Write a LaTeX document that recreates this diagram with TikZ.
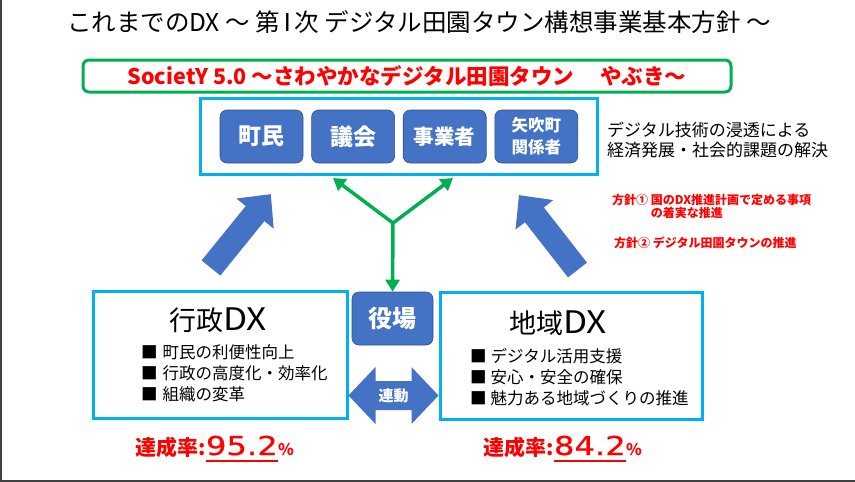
\documentclass[tikz,border=0pt]{standalone}
\usepackage{fontspec}
\newfontfamily\jp{Noto Sans CJK JP}
\newfontfamily\num[FakeBold=0.6]{DejaVu Sans}
\usetikzlibrary{arrows.meta, positioning, fit, calc}
\definecolor{boxblue}{HTML}{4472C4}
\definecolor{boxedge}{HTML}{2F528F}
\definecolor{frameblue}{HTML}{00B0F0}
\definecolor{dxgreen}{HTML}{00B050}
\definecolor{dxred}{HTML}{FF0000}

\begin{document}
\begin{tikzpicture}[
  x=1pt, y=-1pt,
  every node/.style = {font=\jp, inner sep=0pt},
  actor/.style = {
    rounded corners=7pt,
    fill=boxblue,
    draw=boxedge,
    line width=0.6pt,
    text=white,
    align=center,
    minimum width=83pt,
    minimum height=53pt,
    font=\jp\bfseries\fontsize{23}{25}\selectfont
  },
  frame/.style = {
    draw=frameblue,
    line width=3pt
  },
  dx box/.style = {
    frame,
    minimum width=254pt,
    minimum height=127pt
  },
  dx title/.style = {font=\jp\fontsize{27}{30}\selectfont},
  dx list/.style = {
    font=\jp\fontsize{16.5}{21}\selectfont,
    align=left,
    anchor=west
  },
  note/.style = {
    font=\jp\bfseries\fontsize{12}{13}\selectfont,
    text=dxred,
    align=left,
    anchor=west
  },
  link/.style = {
    -{Triangle[length=12pt, width=14pt]},
    dxgreen,
    line width=3.5pt,
    line cap=round
  },
  rate/.style = {
    font=\jp\bfseries\fontsize{21}{23}\selectfont,
    text=dxred,
    anchor=base west
  },
  rate value/.style = {
    font=\num\fontsize{26}{28}\selectfont,
    text=dxred,
    anchor=base west
  },
  push/.pic = {
    \fill[boxblue] (0,-12) -- (70,-12) -- (70,-24) -- (95,0) -- (70,24) -- (70,12) -- (0,12) -- cycle;
  }
]

\useasboundingbox (0,0) rectangle (855,482);
\draw[line width=2pt, black!75] (1,0) -- (1,481) -- (855,481);

\node[font=\jp\fontsize{24.5}{26}\selectfont] (title) at (419,22)
  {これまでのDX\hspace{6pt}～ 第\kern-5pt Ⅰ\kern-5pt 次 デジタル田園タウン構想事業基本方針 ～};

\node[draw=dxgreen, line width=3pt, rounded corners=6pt, minimum width=648pt, minimum height=32pt,
  text=dxred, font=\jp\bfseries\fontsize{21.5}{23}\selectfont] (vision) at (407,76)
  {SocietY 5.0 ～さわやかなデジタル田園タウン　 やぶき～};

\node[actor] (chomin) at (261.5,136.5) {町民};
\node[actor, right=8pt of chomin] (gikai) {議会};
\node[actor, font=\jp\bfseries\fontsize{20.5}{22}\selectfont, right=8pt of gikai] (jigyo) {事業者};
\node[actor, font=\jp\bfseries\fontsize{16.5}{22}\selectfont, right=8pt of jigyo] (kankei) {矢吹町\\関係者};
\node[frame, fit=(chomin)(kankei), inner xsep=19pt, inner ysep=11pt] (actors) {};

\node[anchor=west, align=left, font=\jp\fontsize{17}{20}\selectfont] (aim) at (607,140)
  {デジタル技術の浸透による\\経済発展・社会的課題の解決};

\node[note] (plan1) at (612,206.5) {方針①\ 国のDX推進計画で定める事項\\\phantom{方針①\ }の着実な推進};
\node[note] (plan2) at (614,243) {方針②\ デジタル田園タウンの推進};

\pic[rotate=51] at (211,268) {push};
\pic[rotate=128] at (577.5,270) {push};

\node[actor, minimum width=81pt, font=\jp\bfseries\fontsize{24}{26}\selectfont] (yakuba) at (392.5,318.5) {役場};

\coordinate (fork) at (393,223);
\coordinate (tipL) at (333,178);
\coordinate (tipR) at (453,178);
\draw[link] (fork) -- (tipL);
\draw[link] (fork) -- (tipR);
\draw[link] (fork) -- (yakuba.north);

\node[dx box] (gyosei) at (220,354.5) {};
\node[dx box, minimum width=262pt] (chiiki) at (571,355.5) {};

\node[dx title] (gyoseiTitle) at (218,320) {行政\scalebox{1.3}[1.15]{DX}};
\node[dx title] (chiikiTitle) at (558,323) {地域\scalebox{1.3}[1.15]{DX}};

\node[dx list] (gyoseiList) at (141,373)
  {■\hspace{5pt}町民の利便性向上\\■\hspace{5pt}行政の高度化・効率化\\■\hspace{5pt}組織の変革};
\node[dx list] (chiikiList) at (470,377.5)
  {■\hspace{4pt}デジタル活用支援\\■\hspace{4pt}安心・安全の確保\\■\hspace{4pt}魅力ある地域づくりの推進};

\coordinate (linkMid) at (393.5,395.5);
\coordinate (la) at (gyosei.east |- linkMid);
\coordinate (ra) at (chiiki.west |- linkMid);
\fill[boxblue] (la) -- ++(27,-28.5) -- ++(0,14) -- ($(ra)+(-27,-14.5)$) -- ++(0,-14) -- (ra)
  -- ++(-27,28.5) -- ++(0,-14) -- ($(la)+(27,14.5)$) -- ++(0,14) -- cycle;
\node[text=white, font=\jp\bfseries\fontsize{15}{16}\selectfont] (rendo) at (linkMid) {連動};

\node[rate] (gyoseiRate) at (135,455) {達成率:};
\node[rate value] (gyoseiValue) at (gyoseiRate.base east) {\scalebox{1.24}[1]{95.2}};
\node[rate, font=\jp\bfseries\fontsize{16}{18}\selectfont] (gyoseiPct) at (gyoseiValue.base east) {\%};
\draw[dxred, line width=2pt] ([yshift=-6pt]gyoseiValue.base west) -- ([yshift=-6pt]gyoseiValue.base east);

\node[rate] (chiikiRate) at (483,455) {達成率:};
\node[rate value] (chiikiValue) at (chiikiRate.base east) {\scalebox{1.24}[1]{84.2}};
\node[rate, font=\jp\bfseries\fontsize{16}{18}\selectfont] (chiikiPct) at (chiikiValue.base east) {\%};
\draw[dxred, line width=2pt] ([yshift=-6pt]chiikiValue.base west) -- ([yshift=-6pt]chiikiValue.base east);

\end{tikzpicture}
\end{document}
